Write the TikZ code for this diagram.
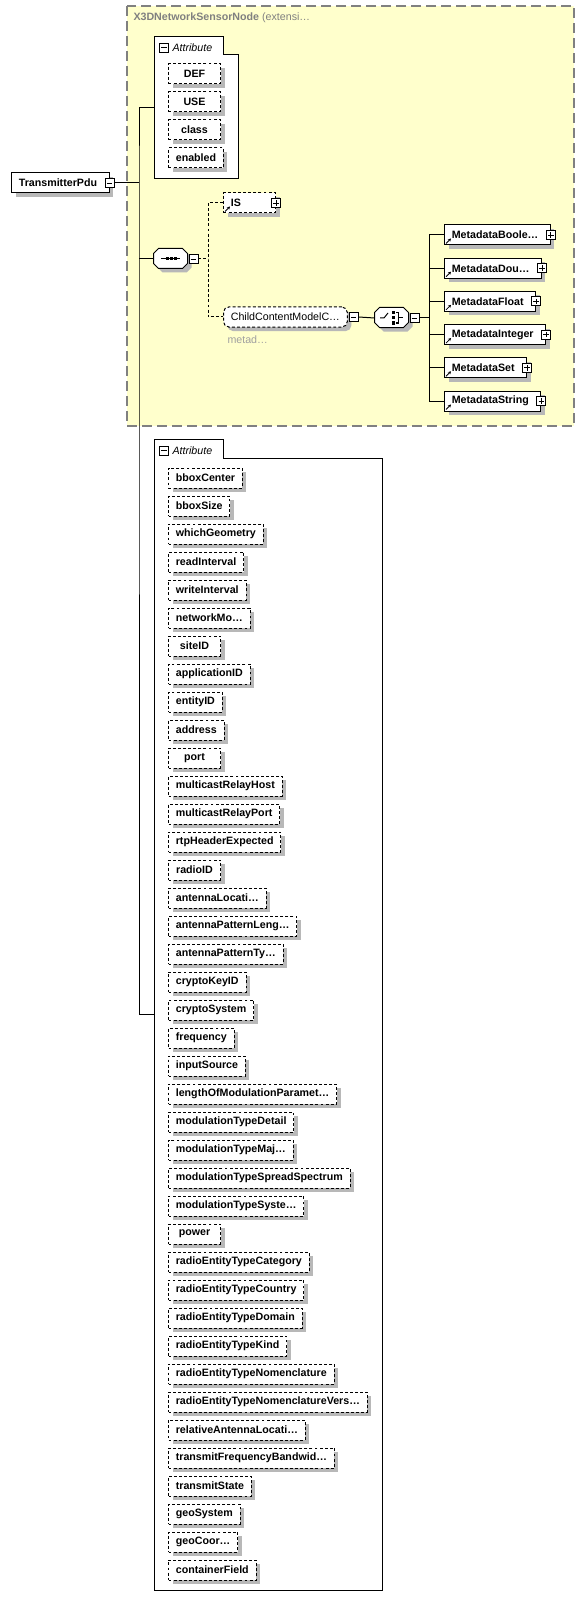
\documentclass[tikz,border=0pt]{standalone}
\usepackage{fontspec}
\setmainfont{Liberation Sans}
\usetikzlibrary{arrows.meta}

\definecolor{baseyellow}{RGB}{255,255,204}
\definecolor{framegray}{RGB}{128,128,128}
\definecolor{notegray}{RGB}{160,160,160}
\colorlet{shadefill}{black!28}

\newcommand\diagfont{\fontsize{8}{9.6}\selectfont}
% octagon of a model group, from its top left corner
\newcommand\modeloutline[2]{%
	\path[#2] #1 ++(5,0) -- ++(24,0) -- ++(5,5) -- ++(0,10) -- ++(-5,5) -- ++(-24,0) -- ++(-5,-5) -- ++(0,-10) -- cycle;}

\tikzset{
	shadowcopy/.style={fill=shadefill, draw=none, text=shadefill, xshift=3pt, yshift=-3pt},
	elembox/.style={draw, fill=white, font=\bfseries\diagfont, minimum height=15pt, inner ysep=0pt, inner xsep=5.5pt, anchor=west},
	attrbox/.style={elembox, dash pattern=on 2.2pt off 1.6pt, minimum width=39pt},
	refbox/.style={elembox, execute at end node={\kern3.5pt}},
	refarrow/.style={line width=0.6pt, -{Stealth[length=2.2pt, width=2.4pt]}},
	optline/.style={dash pattern=on 2.2pt off 1.6pt},
	modelbox/.style={rectangle, minimum width=25.5pt, minimum height=15pt, inner sep=0pt},
	signbox/.style={draw, fill=white, minimum size=6.75pt, inner sep=0pt, line width=0.6pt},
	minusbox/.style={signbox, path picture={\draw[line width=0.6pt] ([xshift=1.3pt]path picture bounding box.west) -- ([xshift=-1.3pt]path picture bounding box.east);}},
	plusbox/.style={signbox, path picture={\draw[line width=0.6pt] ([xshift=1.3pt]path picture bounding box.west) -- ([xshift=-1.3pt]path picture bounding box.east) ([yshift=-1.3pt]path picture bounding box.north) -- ([yshift=1.3pt]path picture bounding box.south);}},
}

\begin{document}
\begin{tikzpicture}[x=0.75pt, y=-0.75pt, line width=0.75pt]
	\useasboundingbox (0,0) rectangle (585,1608);
	% Base type frame:
	\draw[fill=baseyellow, draw=framegray, line width=1pt, dash pattern=on 7.5pt off 3.75pt] (127,6) rectangle (574,426);
	\node[anchor=west, text=framegray, font=\diagfont, inner sep=0pt] (basetitle) at (133,17.5) {\textbf{X3DNetworkSensorNode} (extensi…};

	% Attribute groups:
	\draw[fill=white] (154,179) -- (154,37) -- (223,37) -- (223,55) -- (238,55) -- (238,179) -- cycle;
	\node[minusbox] (attrAsign) at (164,47.5) {};
	\node[anchor=west, font=\itshape\diagfont, inner sep=0pt] (attrAtitle) at (172,47.5) {Attribute};
	\coordinate (attrA) at (154,108);
	\foreach \nm [count=\i from 0] in {DEF, USE, class, enabled} {
		\node[attrbox, shadowcopy] (a\i sh) at (168,74+28*\i) {\phantom{\nm}};
		\node[attrbox] (a\i) at (168,74+28*\i) {\nm};
	}

	\draw[fill=white] (154,1590) -- (154,439) -- (223,439) -- (223,458) -- (382,458) -- (382,1590) -- cycle;
	\node[minusbox] (attrBsign) at (164,450.5) {};
	\node[anchor=west, font=\itshape\diagfont, inner sep=0pt] (attrBtitle) at (172,450.5) {Attribute};
	\coordinate (attrB) at (154,1014.5);
	\foreach \nm [count=\i from 0] in {bboxCenter, bboxSize, whichGeometry, readInterval, writeInterval, networkMo…, siteID, applicationID, entityID, address, port, multicastRelayHost, multicastRelayPort, rtpHeaderExpected, radioID, antennaLocati…, antennaPatternLeng…, antennaPatternTy…, cryptoKeyID, cryptoSystem, frequency, inputSource, lengthOfModulationParamet…, modulationTypeDetail, modulationTypeMaj…, modulationTypeSpreadSpectrum, modulationTypeSyste…, power, radioEntityTypeCategory, radioEntityTypeCountry, radioEntityTypeDomain, radioEntityTypeKind, radioEntityTypeNomenclature, radioEntityTypeNomenclatureVers…, relativeAntennaLocati…, transmitFrequencyBandwid…, transmitState, geoSystem, geoCoor…, containerField} {
		\node[attrbox, shadowcopy] (b\i sh) at (168,478+28*\i) {\phantom{\nm}};
		\node[attrbox] (b\i) at (168,478+28*\i) {\nm};
	}

	% Root element and trunk:
	\node[refbox, shadowcopy] (pdush) at (11,183) {\phantom{TransmitterPdu}};
	\node[refbox] (pdu) at (11,183) {TransmitterPdu};
	\node[minusbox] (pdusign) at (pdu.east) {};
	\coordinate (trunk) at (139,183);
	\draw (pdusign.east) -- (trunk);
	\draw (attrA) -| (trunk) |- (attrB);

	% Sequence:
	\node[modelbox] (seq) at (171,259) {};
	\modeloutline{([shift={(4,4)}]seq.north west)}{fill=shadefill}
	\modeloutline{(seq.north west)}{draw, fill=white}
	\draw (seq.center) ++(-10,0) -- ++(19,0);
	\foreach \dx in {-4,0,4}
		\fill ([xshift=\dx*0.75pt]seq.center) +(-1.5,-1.5) rectangle +(1.5,1.5);
	\node[minusbox, anchor=west] (seqsign) at (seq.east) {};
	\draw (trunk |- seq.west) -- (seq.west);
	\coordinate (seqfork) at (208,259);
	\draw[optline] (seqsign.east) -- (seqfork);

	\node[attrbox, text width=28pt, align=left, shadowcopy] (isrefsh) at (223,203) {};
	\node[attrbox, text width=28pt, align=left] (isref) at (223,203) {IS};
	\node[plusbox] (issign) at (isref.east) {};
	\draw[refarrow] ([shift={(2,-2)}]isref.south west) -- ++(5,-5);

	\node[attrbox, rounded corners=4pt, font=\diagfont, shadowcopy] (childgrpsh) at (223,317) {\phantom{ChildContentModelC…}};
	\node[attrbox, rounded corners=4pt, font=\diagfont] (childgrp) at (223,317) {ChildContentModelC…};
	\node[minusbox, anchor=west] (childsign) at ([xshift=0.75pt]childgrp.east) {};
	\node[anchor=west, text=notegray, font=\diagfont, inner sep=0pt] (childnote) at (227,340) {metad…};
	\draw[optline] (isref.west) -| (seqfork) |- (childgrp.west);

	% Choice:
	\node[modelbox] (choice) at (392,318) {};
	\modeloutline{([shift={(4,4)}]choice.north west)}{fill=shadefill}
	\modeloutline{(choice.north west)}{draw, fill=white}
	\draw (choice.center) ++(-12,0) -- ++(4,0) -- ++(4,-5);
	\foreach \dy in {-5,0,5}
		\fill ([yshift=-\dy*0.75pt]choice.center) +(-0.5,-1.5) rectangle +(2.5,1.5);
	\draw (choice.center) ++(4,-5) -- ++(2.5,0) -- ++(0,10) -- ++(-2.5,0) ++(2.5,-5) -- ++(4,0);
	\node[minusbox, anchor=west] (choicesign) at (choice.east) {};
	\draw (childsign.east) -- (choice.west);
	\coordinate (choicefork) at (429,318);
	\draw (choicesign.east) -- (choicefork);

	\foreach \nm [count=\i from 0] in {MetadataBoole…, MetadataDou…, MetadataFloat, MetadataInteger, MetadataSet, MetadataString} {
		\node[refbox, shadowcopy] (meta\i sh) at (444,235+33.2*\i) {\phantom{\nm}};
		\node[refbox] (meta\i) at (444,235+33.2*\i) {\nm};
		\node[plusbox] (meta\i sign) at (meta\i.east) {};
		\draw[refarrow] ([shift={(2,-2)}]meta\i.south west) -- ++(5,-5);
		\draw (choicefork |- meta\i.west) -- (meta\i.west);
	}
	\draw (choicefork |- meta0.west) -- (choicefork |- meta5.west);
\end{tikzpicture}
\end{document}
